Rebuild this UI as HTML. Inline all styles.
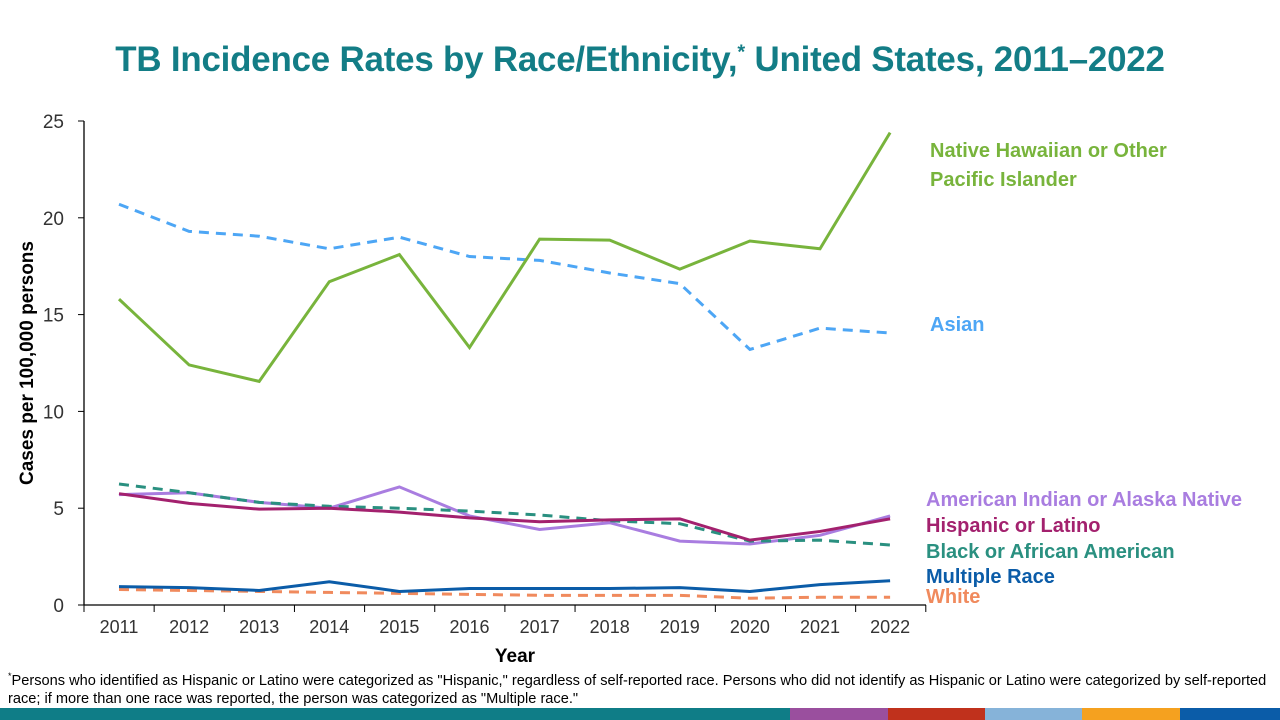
<!DOCTYPE html>
<html><head><meta charset="utf-8"><style>
body{margin:0;width:1280px;height:720px;background:#fff;overflow:hidden;font-family:"Liberation Sans",sans-serif;position:relative}
h1{position:absolute;top:40px;left:0;width:1280px;text-align:center;margin:0;font-size:34.9px;color:#137d86;font-weight:bold;letter-spacing:-0.2px;white-space:nowrap}
.note{position:absolute;left:8px;top:667px;width:1275px;font-size:14.6px;line-height:18px;color:#000;white-space:nowrap}
.bar{position:absolute;top:708px;height:12px}
</style></head><body>
<h1>TB Incidence Rates by Race/Ethnicity,<sup style="font-size:20px">*</sup> United States, 2011–2022</h1>
<svg id="c" width="1280" height="720" style="position:absolute;left:0;top:0" font-family="Liberation Sans, sans-serif"></svg>
<div class="note"><sup style="font-size:9px">*</sup>Persons who identified as Hispanic or Latino were categorized as "Hispanic," regardless of self-reported race. Persons who did not identify as Hispanic or Latino were categorized by self-reported<br>race; if more than one race was reported, the person was categorized as "Multiple race."</div>
<div class="bar" style="left:0;width:790px;background:#0f7d87"></div>
<div class="bar" style="left:790px;width:98px;background:#9a4f9e"></div>
<div class="bar" style="left:888px;width:97px;background:#c0311c"></div>
<div class="bar" style="left:985px;width:97px;background:#86b3d9"></div>
<div class="bar" style="left:1082px;width:98px;background:#f5a11f"></div>
<div class="bar" style="left:1180px;width:100px;background:#0b5ca8"></div>
<script>
var s='';function Y(v){return 605-19.36*v}function X(i){return 119+70.1*i}
s+='<line x1="84" y1="121" x2="84" y2="605" stroke="#000" stroke-width="1.3"/><line x1="84" y1="605" x2="926" y2="605" stroke="#000" stroke-width="1.3"/>';
for(var v=0;v<=25;v+=5){s+='<line x1="78" x2="84" y1="'+Y(v)+'" y2="'+Y(v)+'" stroke="#000"/><text x="64" y="'+(Y(v)+7)+'" font-size="19" text-anchor="end" fill="#333">'+v+'</text>';}
for(var i=0;i<=12;i++){var x=84+70.15*i;s+='<line x1="'+x+'" x2="'+x+'" y1="605" y2="612" stroke="#000"/>';}
for(var i=0;i<12;i++){s+='<text x="'+X(i)+'" y="633" font-size="18" text-anchor="middle" fill="#333">'+(2011+i)+'</text>';}
s+='<text x="515" y="662" font-size="19" font-weight="bold" text-anchor="middle">Year</text>';
s+='<text transform="translate(33,363) rotate(-90)" font-size="19" font-weight="bold" text-anchor="middle">Cases per 100,000 persons</text>';
var D=[
['#f08a5d',1,[0.8,0.75,0.7,0.65,0.6,0.55,0.5,0.5,0.5,0.35,0.4,0.4]],
['#0b5ca8',0,[0.95,0.9,0.75,1.2,0.7,0.85,0.85,0.85,0.9,0.7,1.05,1.25]],
['#a97de0',0,[5.7,5.8,5.3,5.0,6.1,4.6,3.9,4.25,3.3,3.15,3.6,4.6]],
['#2a9080',1,[6.25,5.8,5.3,5.1,5.0,4.85,4.65,4.35,4.2,3.3,3.35,3.1]],
['#a3216e',0,[5.75,5.25,4.95,5.0,4.8,4.5,4.3,4.4,4.45,3.35,3.8,4.45]],
['#4da6f5',1,[20.7,19.3,19.05,18.4,19.0,18.0,17.8,17.15,16.6,13.2,14.3,14.05]],
['#78b43c',0,[15.8,12.4,11.55,16.7,18.1,13.3,18.9,18.85,17.35,18.8,18.4,24.4]]];
D.forEach(function(d){var p=d[2].map(function(v,i){return X(i)+','+Y(v)}).join(' ');s+='<polyline points="'+p+'" fill="none" stroke="'+d[0]+'" stroke-width="3"'+(d[1]?' stroke-dasharray="10,7"':'')+'/>';});
var L=[['Native Hawaiian or Other',930,157,'#78b43c'],['Pacific Islander',930,186,'#78b43c'],['Asian',930,331,'#4da6f5'],['American Indian or Alaska Native',926,506,'#a97de0'],['Hispanic or Latino',926,532,'#a3216e'],['Black or African American',926,558,'#2a9080'],['Multiple Race',926,583,'#0b5ca8'],['White',926,603,'#f08a5d']];
L.forEach(function(l){s+='<text x="'+l[1]+'" y="'+l[2]+'" font-size="20" font-weight="bold" fill="'+l[3]+'">'+l[0]+'</text>';});
document.getElementById('c').innerHTML=s;
</script>
</body></html>
